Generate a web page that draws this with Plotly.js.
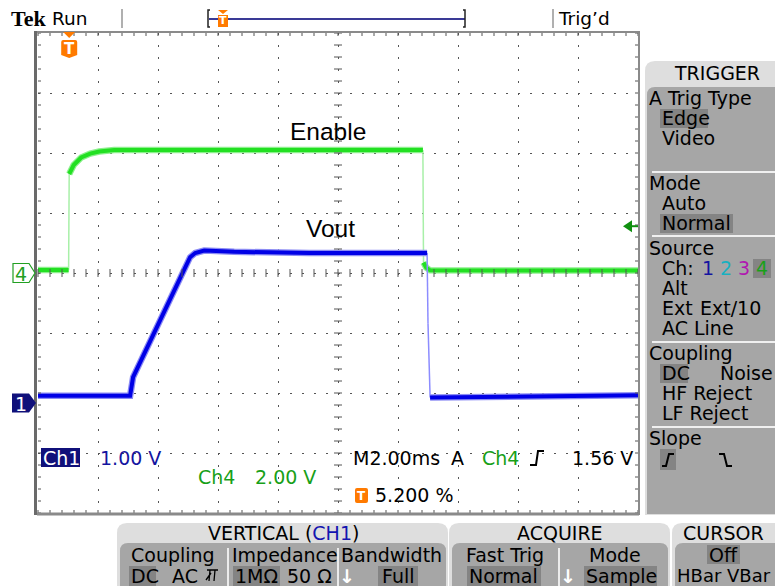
<!DOCTYPE html>
<html><head><meta charset="utf-8">
<script src="https://cdn.plot.ly/plotly-3.0.1.min.js"></script>
<style>html,body{margin:0;padding:0;background:#fff;overflow:hidden}</style>
</head><body><div id="chart" style="width:775px;height:586px"></div>
<script>
// ---------------- data ----------------
const timePerDivMs = 2;          // M2.00ms
const triggerPositionPct = 5.2;  // T 5.200 %
const ch1VoltsPerDiv = 1;        // Ch1 1.00 V
const ch4VoltsPerDiv = 2;        // Ch4 2.00 V
const ch1GroundDiv = -2.1667;    // ground marker of Ch1, divisions from centre
const ch4GroundDiv = 0;          // ground marker of Ch4
const triggerLevelV = 1.56;      // A Ch4 rising 1.56 V

// Ch4 : Enable (time in ms relative to trigger, volts)
const ch4TimeMs = [-1.04, -0.02, 0.0, 0.15, 0.4, 0.7, 1.0, 1.5, 6.0, 11.79, 11.81, 11.9, 12.03, 15.0, 18.96];
const ch4Volts  = [0.10, 0.10, 3.30, 3.60, 3.85, 3.98, 4.05, 4.10, 4.10, 4.10, 0.35, 0.18, 0.09, 0.08, 0.08];
// Ch1 : Vout
const ch1TimeMs = [-1.04, 2.03, 2.13, 4.03, 4.2, 4.5, 5.5, 8.0, 11.93, 11.96, 12.03, 15.0, 18.96];
const ch1Volts  = [0.12, 0.12, 0.43, 2.43, 2.50, 2.54, 2.52, 2.50, 2.50, 1.33, 0.09, 0.10, 0.13];

const channelLabels = {ch4: "Enable", ch1: "Vout"};

// ---------------- geometry ----------------
const W = 775, H = 586;
const L = 38, R = 638, T = 33, B = 513;   // graticule in pixels
const divPx = 60;
const px = x => x / W, py = y => 1 - y / H;
const P = (x, y) => px(x) + ',' + py(y);
const FONT = 'DejaVu Sans';
const FS = 19;

const xMin = -triggerPositionPct / 100 * 10 * timePerDivMs;
const xMax = xMin + 10 * timePerDivMs;
const y4 = [(-4 - ch4GroundDiv) * ch4VoltsPerDiv, (4 - ch4GroundDiv) * ch4VoltsPerDiv];
const y1 = [(-4 - ch1GroundDiv) * ch1VoltsPerDiv, (4 - ch1GroundDiv) * ch1VoltsPerDiv];

// split a waveform into the dense (thick) part and fast edges (thin, sparsely sampled)
function split(t, v, thr) {
  const thick = {x: [], y: []}, thin = {x: [], y: []};
  for (let i = 0; i < t.length; i++) {
    thick.x.push(t[i]); thick.y.push(v[i]);
    if (i < t.length - 1) {
      const steep = Math.abs(v[i + 1] - v[i]) / (t[i + 1] - t[i]) > thr;
      if (steep) {
        thick.x.push(null); thick.y.push(null);
        thin.x.push(t[i], t[i + 1], null); thin.y.push(v[i], v[i + 1], null);
      }
    }
  }
  return {thick, thin};
}
const s4 = split(ch4TimeMs, ch4Volts, 10);
const s1 = split(ch1TimeMs, ch1Volts, 10);

const G = '#22e022', Bl = '#0000e6';
const traces = [
  {x: s4.thick.x, y: s4.thick.y, yaxis: 'y', mode: 'lines', line: {color: '#8cf08c', width: 6.5}, hoverinfo: 'skip'},
  {x: s4.thin.x, y: s4.thin.y, yaxis: 'y', mode: 'lines', line: {color: '#a8f0a8', width: 1.5}, hoverinfo: 'skip'},
  {x: s4.thick.x, y: s4.thick.y, yaxis: 'y', mode: 'lines', line: {color: G, width: 4}, name: channelLabels.ch4},
  {x: s1.thick.x, y: s1.thick.y, yaxis: 'y2', mode: 'lines', line: {color: '#8c8cf4', width: 6.5}, hoverinfo: 'skip'},
  {x: s1.thin.x, y: s1.thin.y, yaxis: 'y2', mode: 'lines', line: {color: '#8c8cff', width: 1.5}, hoverinfo: 'skip'},
  {x: s1.thick.x, y: s1.thick.y, yaxis: 'y2', mode: 'lines', line: {color: Bl, width: 4}, name: channelLabels.ch1}
];

// ---------------- decoration helpers ----------------
const ann = [], shp = [];
function txt(x, y, text, o = {}) {
  ann.push({xref: 'paper', yref: 'paper', x: px(x), y: py(y), text: text, showarrow: false,
    xanchor: o.a || 'left', yanchor: 'middle', borderpad: 0, borderwidth: 0,
    font: {family: o.f || FONT, size: o.s || FS, color: o.c || '#000', weight: o.w || 'normal'}});
}
function rect(x0, y0, x1, y1, fill) {
  shp.push({type: 'rect', xref: 'paper', yref: 'paper', x0: px(x0), x1: px(x1), y0: py(y1), y1: py(y0),
    fillcolor: fill, line: {width: 0}, layer: 'above'});
}
function path(d, fill, lineColor, lw) {
  shp.push({type: 'path', xref: 'paper', yref: 'paper', path: d, fillcolor: fill || 'rgba(0,0,0,0)',
    line: {color: lineColor || 'rgba(0,0,0,0)', width: lw || 0}, layer: 'above'});
}
function seg(x0, y0, x1, y1, c, w) {
  shp.push({type: 'line', xref: 'paper', yref: 'paper', x0: px(x0), y0: py(y0), x1: px(x1), y1: py(y1),
    line: {color: c, width: w}, layer: 'above'});
}
function roundTop(x0, y0, x1, y1, r, fill) {
  path(`M${P(x0, y1)}L${P(x0, y0 + r)}Q${P(x0, y0)} ${P(x0 + r, y0)}L${P(x1 - r, y0)}Q${P(x1, y0)} ${P(x1, y0 + r)}L${P(x1, y1)}Z`, fill);
}

// ---------------- graticule frame & ticks ----------------
let tk = '';
for (let x = L; x <= R + 0.1; x += 12) {
  tk += `M${P(x, T)}L${P(x, T + 3)}M${P(x, B)}L${P(x, B - 3)}`;
  tk += `M${P(x, (T + B) / 2 - 4)}L${P(x, (T + B) / 2 + 4)}`;
}
for (let y = T; y <= B + 0.1; y += 12) {
  tk += `M${P(L, y)}L${P(L + 3, y)}M${P(R, y)}L${P(R - 3, y)}`;
  tk += `M${P((L + R) / 2 - 4, y)}L${P((L + R) / 2 + 4, y)}`;
}
path(tk, null, '#555', 1);
seg(L - 1, T - 1, R + 1, T - 1, '#8a8a8a', 2);
seg(L - 1, B + 1, R + 1, B + 1, '#8a8a8a', 3);
seg(R + 1, T - 2, R + 1, B + 2, '#8a8a8a', 2);
seg(L - 2.5, T - 2, L - 2.5, B + 2, '#6a6a6a', 3);

// ---------------- top status bar ----------------
txt(11, 18, 'Tek', {f: 'Liberation Serif', s: 22, w: 'bold'});
txt(52, 18, 'Run', {s: 18.5});
seg(122, 9, 122, 28, '#b0b0b0', 2);
seg(553, 9, 553, 28, '#b0b0b0', 2);
txt(558, 18, "Trig’d", {s: 18.5});
const ORANGE = '#ff7a00';
// record bar
path(`M${P(210, 10)}L${P(208, 10)}L${P(208, 27)}L${P(210, 27)}`, null, '#222', 1.5);
seg(209, 19, 465, 19, '#3a3a96', 2);
path(`M${P(463, 10)}L${P(465, 10)}L${P(465, 27)}L${P(463, 27)}`, null, '#222', 1.5);
path(`M${P(218, 10)}L${P(228, 10)}L${P(223, 14)}Z`, ORANGE);
rect(218, 15, 228, 27, ORANGE);
txt(223, 21, 'T', {a: 'center', s: 11, c: '#fff', w: 'bold'});

// trigger position marker on the graticule
const trigPx = L + (0 - xMin) / (xMax - xMin) * (R - L);
path(`M${P(trigPx - 6, T - 1)}L${P(trigPx + 6, T - 1)}L${P(trigPx, T + 5)}Z`, ORANGE);
path(`M${P(trigPx - 8, 42)}Q${P(trigPx - 8, 40)} ${P(trigPx - 6, 40)}L${P(trigPx + 6, 40)}Q${P(trigPx + 8, 40)} ${P(trigPx + 8, 42)}L${P(trigPx + 8, 55)}L${P(trigPx, 58)}L${P(trigPx - 8, 55)}Z`, ORANGE);
txt(trigPx, 49, 'T', {a: 'center', s: 15, c: '#fff', w: 'bold'});

// channel ground markers
const gnd4 = (T + B) / 2 - ch4GroundDiv * divPx;
const gnd1 = (T + B) / 2 - ch1GroundDiv * divPx;
path(`M${P(13, gnd4 - 9.5)}L${P(29, gnd4 - 9.5)}L${P(35, gnd4)}L${P(29, gnd4 + 9.5)}L${P(13, gnd4 + 9.5)}Z`, '#fff', '#22a022', 1.2);
txt(21, gnd4 + 1, '4', {a: 'center', s: 19, c: '#22a022'});
path(`M${P(12, gnd1 - 9.5)}L${P(29, gnd1 - 9.5)}L${P(36, gnd1)}L${P(29, gnd1 + 9.5)}L${P(12, gnd1 + 9.5)}Z`, '#10107a');
txt(21, gnd1 + 1, '1', {a: 'center', s: 19, c: '#fff'});

// trigger level arrow (right edge)
const trigLvlPx = gnd4 - triggerLevelV / ch4VoltsPerDiv * divPx;
path(`M${P(623, trigLvlPx)}L${P(632, trigLvlPx - 6)}L${P(632, trigLvlPx + 6)}Z`, '#109010');
seg(631, trigLvlPx, 638, trigLvlPx, '#109010', 2);

// waveform labels
txt(328, 131, channelLabels.ch4, {a: 'center', s: 24.5, f: 'Liberation Sans'});
txt(330, 228, channelLabels.ch1, {a: 'center', s: 24.5, f: 'Liberation Sans'});

// readouts inside graticule
const NAVY = '#1414a0', GR = '#18a018';
rect(41, 448, 80, 467, '#10107a');
txt(43, 457.5, 'Ch1', {c: '#fff'});
txt(100, 457.5, '1.00 V', {c: NAVY});
txt(198, 477, 'Ch4', {c: GR});
txt(255, 477, '2.00 V', {c: GR});
txt(353, 458, 'M2.00ms', {});
txt(451, 458, 'A', {});
txt(482, 458, 'Ch4', {c: GR});
path(`M${P(530, 465)}L${P(536, 465)}L${P(538, 451)}L${P(544, 451)}`, null, '#000', 2);
txt(572, 458, '1.56 V', {});
path(`M${P(355, 490)}Q${P(355, 488)} ${P(357, 488)}L${P(366, 488)}Q${P(368, 488)} ${P(368, 490)}L${P(368, 501)}Q${P(368, 503)} ${P(366, 503)}L${P(357, 503)}Q${P(355, 503)} ${P(355, 501)}Z`, ORANGE);
txt(361.5, 495.5, 'T', {a: 'center', s: 12, c: '#fff', w: 'bold'});
txt(375, 495, '5.200 %', {});

// ---------------- right TRIGGER menu ----------------
const LIGHT = '#dedede', DARK = '#a6a6a6', HL = '#848484';
roundTop(645, 61, 790, 515, 10, LIGHT);
roundTop(647, 87, 790, 514, 8, DARK);
txt(717, 73, 'TRIGGER', {a: 'center'});
[172, 236, 342, 427].forEach(y => seg(652, y, 776, y, '#f0f0f0', 2));
rect(660, 109, 708, 128, HL);
rect(660, 214, 733, 233, HL);
rect(753, 259, 771, 278, HL);
rect(660, 364, 688, 383, HL);
rect(660, 449, 676, 470, HL);
txt(649, 98, 'A Trig Type');
txt(662, 118, 'Edge');
txt(662, 138, 'Video');
txt(649, 183, 'Mode');
txt(662, 203, 'Auto');
txt(662, 223, 'Normal');
txt(649, 248, 'Source');
txt(662, 268, 'Ch:');
txt(702, 268, '1', {c: '#1414a0'});
txt(720, 268, '2', {c: '#18b0c0'});
txt(738, 268, '3', {c: '#b018b0'});
txt(756, 268, '4', {c: '#18a018'});
txt(662, 288, 'Alt');
txt(662, 308, 'Ext');
txt(700, 308, 'Ext/10');
txt(662, 328, 'AC Line');
txt(649, 353, 'Coupling');
txt(662, 373, 'DC');
txt(720, 373, 'Noise');
txt(662, 393, 'HF Reject');
txt(662, 413, 'LF Reject');
txt(649, 438, 'Slope');
path(`M${P(662, 466)}L${P(666, 466)}L${P(669, 454)}L${P(674, 454)}`, null, '#000', 2);
path(`M${P(719, 454)}L${P(724, 454)}L${P(727, 466)}L${P(732, 466)}`, null, '#000', 2);

// ---------------- bottom menus ----------------
roundTop(117, 523, 448, 600, 10, LIGHT);
roundTop(120, 543, 446, 600, 8, DARK);
roundTop(449, 523, 670, 600, 10, LIGHT);
roundTop(452, 543, 668, 600, 8, DARK);
roundTop(672, 523, 790, 600, 10, LIGHT);
roundTop(675, 543, 790, 600, 8, DARK);
seg(228, 548, 228, 590, '#ececec', 2);
seg(338, 548, 338, 590, '#ececec', 2);
seg(559, 548, 559, 590, '#ececec', 2);
rect(129, 566, 156, 586, HL);
rect(233, 566, 280, 586, HL);
rect(378, 566, 418, 586, HL);
rect(467, 566, 541, 586, HL);
rect(584, 566, 657, 586, HL);
rect(707, 545, 740, 564, HL);

txt(283, 533, 'VERTICAL (<span style="color:#1414b0">CH1</span>)', {a: 'center'});
txt(131, 555, 'Coupling');
txt(131, 575.5, 'DC');
txt(172, 575.5, 'AC');
path(`M${P(207, 570)}L${P(218, 570)}M${P(210, 570)}L${P(209, 581)}M${P(215, 570)}L${P(214, 581)}M${P(206, 580)}L${P(211, 573)}`, null, '#000', 1.3);
txt(232, 555, 'Impedance');
txt(235, 575.5, '1MΩ');
txt(287, 575.5, '50 Ω');
txt(341, 555, 'Bandwidth');
txt(347, 575.5, '↓', {a: 'center', c: '#fff', w: 'bold'});
txt(398, 575.5, 'Full', {a: 'center'});
txt(560, 533, 'ACQUIRE', {a: 'center'});
txt(505, 555, 'Fast Trig', {a: 'center'});
txt(504, 575.5, 'Normal', {a: 'center'});
txt(568, 575.5, '↓', {a: 'center', c: '#fff', w: 'bold'});
txt(615, 555, 'Mode', {a: 'center'});
txt(621, 575.5, 'Sample', {a: 'center'});
txt(723, 533, 'CURSOR', {a: 'center'});
txt(723, 555, 'Off', {a: 'center'});
txt(724, 575.5, 'HBar VBar', {a: 'center', s: 18});

// ---------------- layout ----------------
const noAx = {showticklabels: false, ticks: '', zeroline: false, showline: false, fixedrange: true};
const layout = {
  width: W, height: H, margin: {l: 0, r: 0, t: 0, b: 0},
  paper_bgcolor: '#fff', plot_bgcolor: '#fff', showlegend: false,
  xaxis: Object.assign({domain: [px(L), px(R)], range: [xMin, xMax], tick0: xMin, dtick: timePerDivMs,
    showgrid: true, gridcolor: '#555', gridwidth: 1, griddash: '2px,10px'}, noAx),
  yaxis: Object.assign({domain: [py(B), py(T)], range: y4, tick0: 0, dtick: ch4VoltsPerDiv,
    showgrid: true, gridcolor: '#555', gridwidth: 1, griddash: '2px,10px'}, noAx),
  yaxis2: Object.assign({overlaying: 'y', range: y1, showgrid: false}, noAx),
  shapes: shp, annotations: ann
};
Plotly.newPlot('chart', traces, layout, {staticPlot: true, displayModeBar: false});
</script>
</body></html>
